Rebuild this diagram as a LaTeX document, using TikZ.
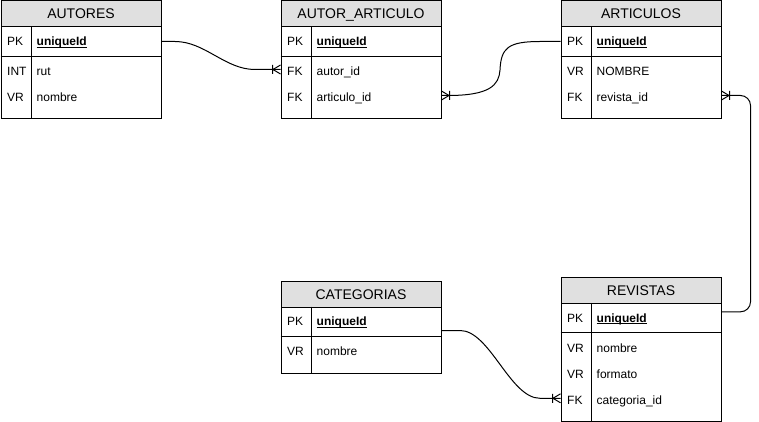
\documentclass[tikz,border=0pt]{standalone}
\usepackage{fontspec}
\setmainfont{Liberation Sans}
\usetikzlibrary{calc}
\definecolor{hdrgray}{HTML}{E0E0E0}
\newcommand\uid{\setbox0\hbox{\textbf{uniqueId}}\rlap{\rule[-1.6pt]{\wd0}{0.8pt}}\box0}
\tikzset{
  tbl/.style={draw, line width=1pt, minimum width=160pt, inner sep=0pt, anchor=north west},
  hdr/.style={draw, line width=1pt, fill=hdrgray, minimum width=160pt, minimum height=26pt,
    inner sep=0pt, anchor=north west, text height=10pt, text depth=0pt,
    font=\fontsize{14}{16}\selectfont},
  keyt/.style={anchor=west, inner sep=0pt, text height=8.6pt, text depth=0pt,
    font=\fontsize{12}{14}\selectfont},
  rel/.style={line width=1pt},
  crowfoot/.pic={\draw[line width=1pt] (-7.5,0) -- (0,-4.5) (-7.5,0) -- (0,4.5) (-8,-4.5) -- (-8,4.5);}
}
\newcommand\ertable[5]{%
  \node[tbl, minimum height={66pt+#5*26pt}] (#1) at (#2,#3) {};
  \node[hdr] (#1-h) at (#1.north west) {#4};
  \draw[line width=1pt] ($(#1.north west)+(0,56)$) -- ($(#1.north east)+(0,56)$);
  \draw[line width=1pt] ($(#1.north west)+(30.5,26)$) -- ($(#1.south west)+(30.5,0)$);
}
\newcommand\erfield[4]{%
  \node[keyt] (#1-k#2) at ($(#1.north west)+(6.5,#2)$) {#3};
  \node[keyt] (#1-f#2) at ($(#1.north west)+(36,#2)$) {#4};
}
\begin{document}
\begin{tikzpicture}[x=1pt,y=-1pt]
\useasboundingbox (0,0) rectangle (759,422);
% tables
\ertable{autores}{0.5}{0.5}{AUTORES}{2}
\erfield{autores}{41}{PK}{\uid}
\erfield{autores}{71}{INT}{rut}
\erfield{autores}{97}{VR}{nombre}

\ertable{autart}{280.5}{0.5}{AUTOR\_ARTICULO}{2}
\erfield{autart}{41}{PK}{\uid}
\erfield{autart}{71}{FK}{autor\_id}
\erfield{autart}{97}{FK}{articulo\_id}

\ertable{articulos}{560.5}{0.5}{ARTICULOS}{2}
\erfield{articulos}{41}{PK}{\uid}
\erfield{articulos}{71}{VR}{NOMBRE}
\erfield{articulos}{97}{FK}{revista\_id}

\ertable{categorias}{280.5}{280.5}{CATEGORIAS}{1}
\erfield{categorias}{41}{PK}{\uid}
\erfield{categorias}{71}{VR}{nombre}

\ertable{revistas}{560.5}{276.8}{REVISTAS}{3}
\erfield{revistas}{41}{PK}{\uid}
\erfield{revistas}{71}{VR}{nombre}
\erfield{revistas}{97}{VR}{formato}
\erfield{revistas}{123}{FK}{categoria\_id}

% connector end points
\coordinate (c1a) at ($(autores.north east)+(0,41)$);
\coordinate (c1b) at ($(autart.north west)+(0,69)$);
\coordinate (c2a) at ($(autart.north east)+(0,95)$);
\coordinate (c2b) at ($(articulos.north west)+(0,41)$);
\coordinate (c3a) at ($(articulos.north east)+(0,95)$);
\coordinate (c3b) at ($(revistas.north east)+(0,35)$);
\coordinate (c4a) at ($(categorias.north east)+(0,50)$);
\coordinate (c4b) at ($(revistas.north west)+(0,121.5)$);

% connectors
\draw[rel] (c1a) -- (175,41.5) .. controls (205,41.5) and (225,69.5) .. (255,69.5) -- (c1b);
\pic at (c1b) {crowfoot};

\draw[rel] (c2a) -- (448,95.5) .. controls (490,95.5) and (499,85) .. (500,70)
  .. controls (501,48) and (508,41.5) .. (540,41.5) -- (c2b);
\pic[xscale=-1] at (c2a) {crowfoot};

\draw[rel, rounded corners=10pt] (c3a) -- (750.5,95.5) -- (750.5,311.8) -- (c3b);
\pic[xscale=-1] at (c3a) {crowfoot};

\draw[rel] (c4a) -- (460,330.5) .. controls (490,330.5) and (510,398.3) .. (540,398.3) -- (c4b);
\pic at (c4b) {crowfoot};
\end{tikzpicture}
\end{document}
